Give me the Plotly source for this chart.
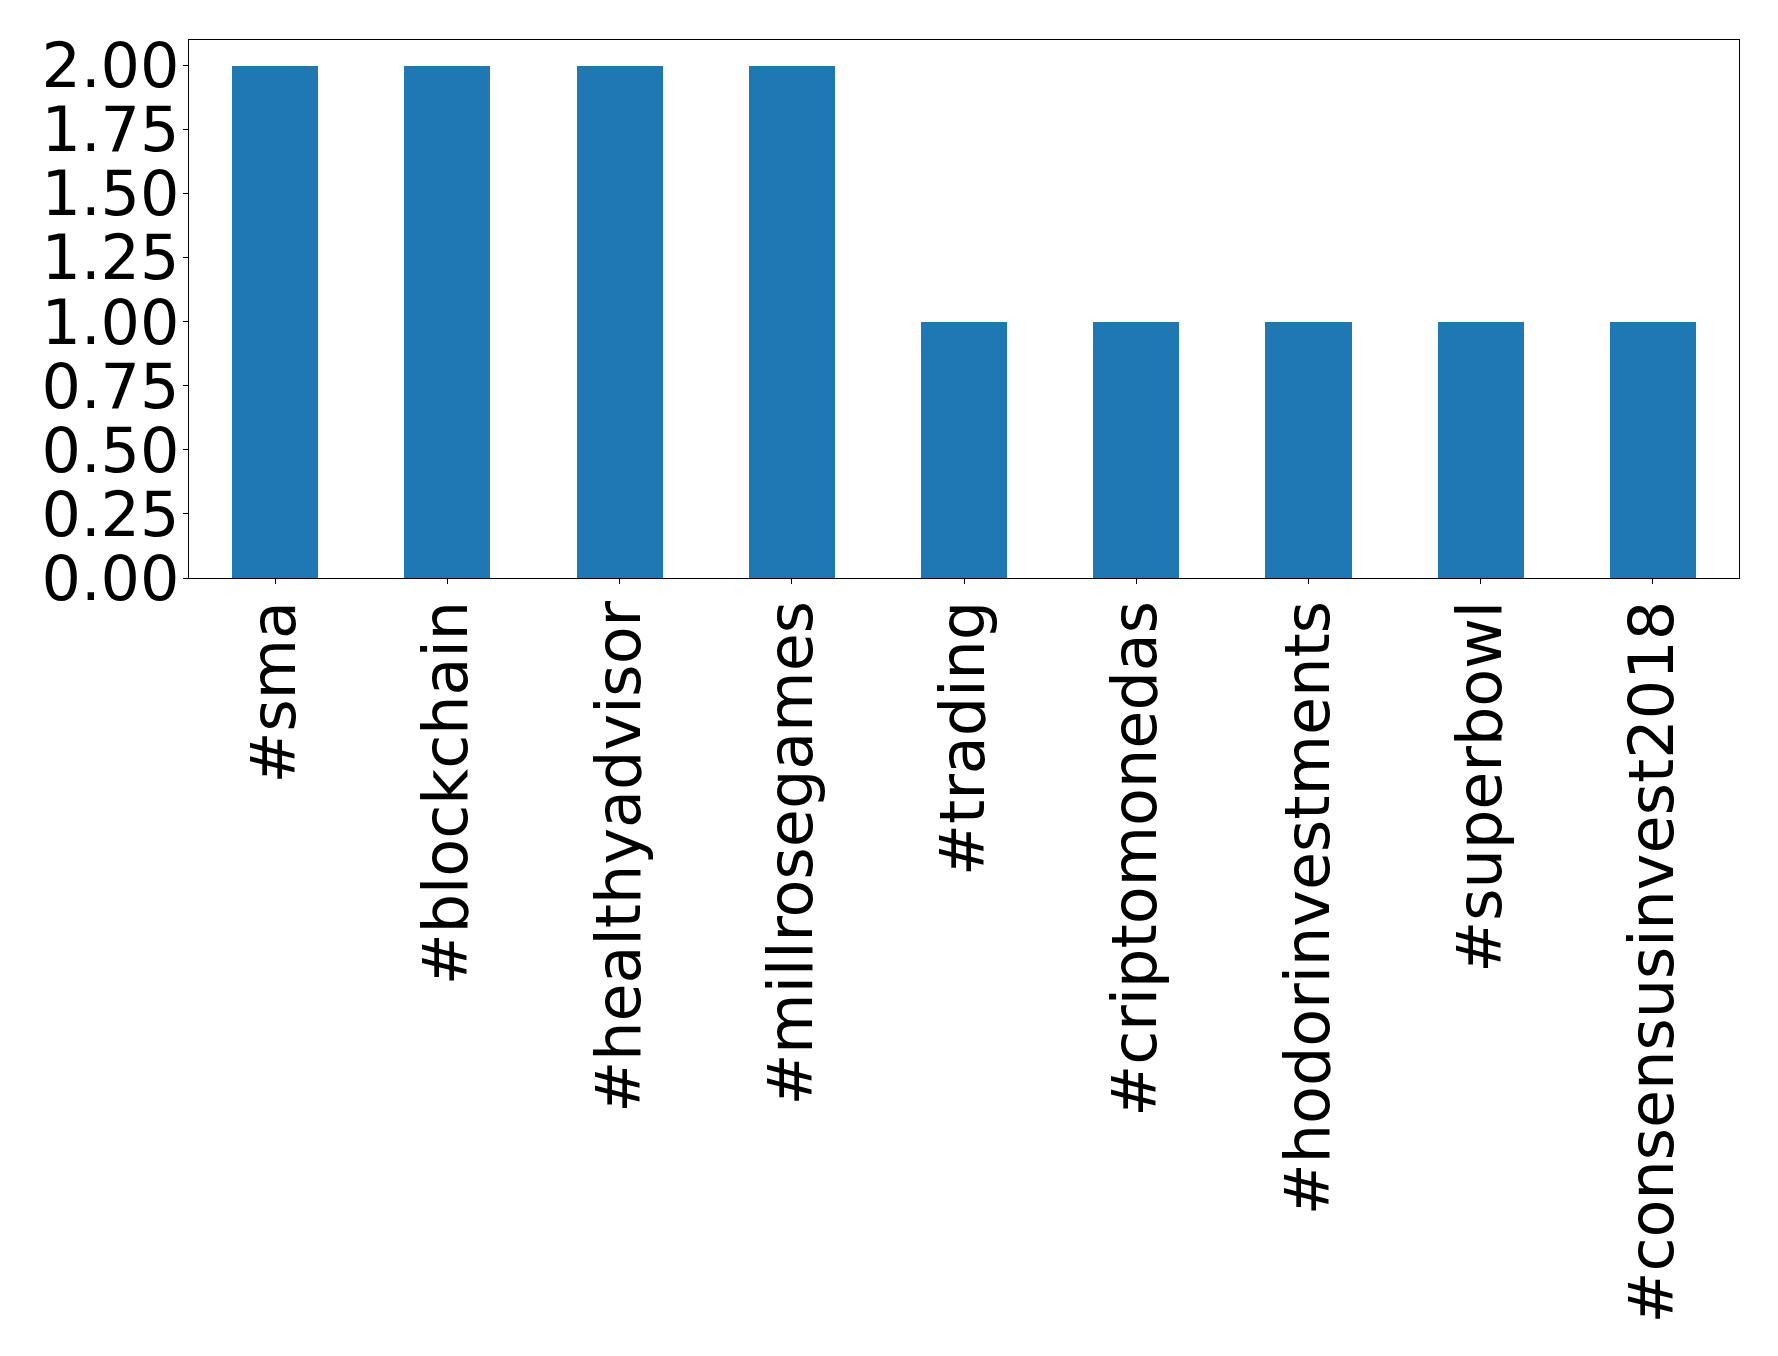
import plotly.graph_objects as go

categories = ["#sma", "#blockchain", "#healthyadvisor", "#millrosegames", "#trading",
              "#criptomonedas", "#hodorinvestments", "#superbowl", "#consensusinvest2018"]
values = [2, 2, 2, 2, 1, 1, 1, 1, 1]
y_ticks = [0, 0.25, 0.5, 0.75, 1.0, 1.25, 1.5, 1.75, 2.0]
y_tick_labels = ["0.00", "0.25", "0.50", "0.75", "1.00", "1.25", "1.50", "1.75", "2.00"]

fig = go.Figure(go.Bar(x=list(range(len(categories))), y=values, width=0.5,
                       marker=dict(color="#1f77b4", line=dict(width=0))))

font = dict(family="DejaVu Sans", size=62, color="black")
fig.update_layout(
    width=1778, height=1356,
    margin=dict(l=181, r=47, t=32, b=786, autoexpand=False),
    paper_bgcolor="white", plot_bgcolor="white",
    showlegend=False,
    font=font,
    bargap=0,
)
fig.update_xaxes(range=[-0.5, 8.5], tickmode="array",
                 tickvals=list(range(len(categories))), ticktext=categories,
                 tickangle=-90, ticks="outside", ticklen=5, tickwidth=1.2, tickcolor="black",
                 showline=True, linecolor="black", linewidth=1.2, mirror=True,
                 showgrid=False, zeroline=False, tickfont=font, ticklabelstandoff=-8)
fig.update_yaxes(range=[0, 2.1], tickmode="array", tickvals=y_ticks, ticktext=y_tick_labels,
                 ticks="outside", ticklen=5, tickwidth=1.2, tickcolor="black",
                 showline=True, linecolor="black", linewidth=1.2, mirror=True,
                 showgrid=False, zeroline=False, tickfont=font, ticklabelstandoff=-9)

fig.write_html("out.html")
